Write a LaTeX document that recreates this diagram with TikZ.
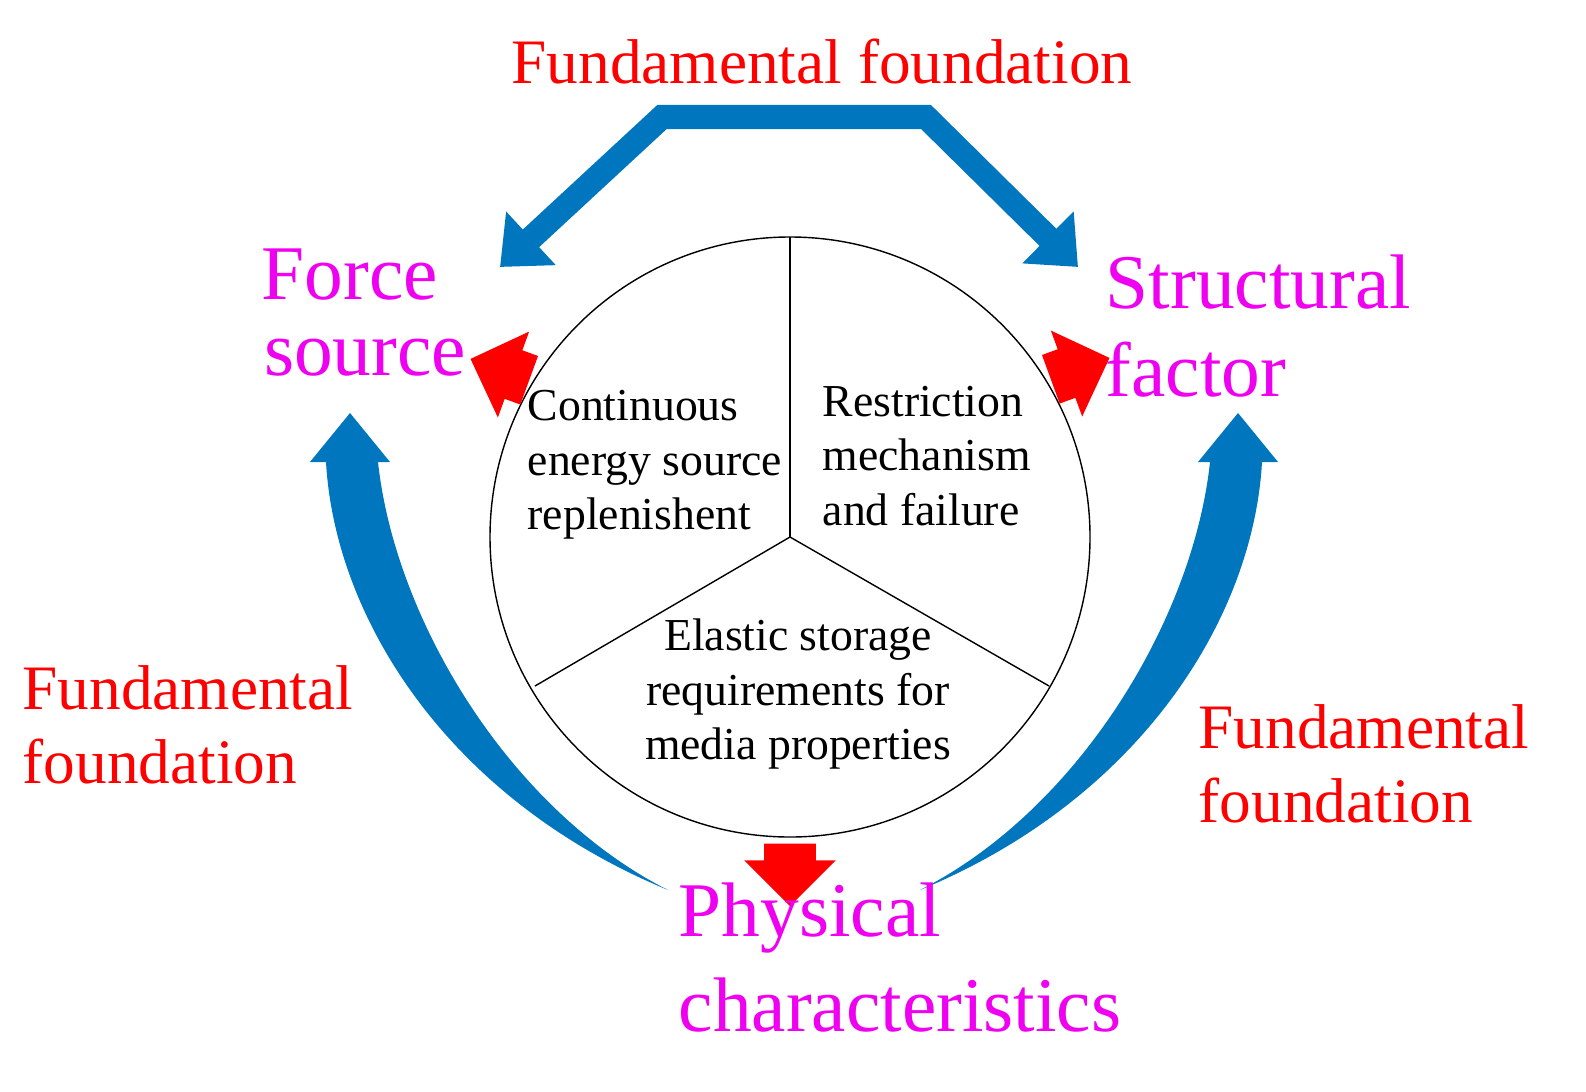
\documentclass[tikz,border=0pt]{standalone}
\usepackage{fontspec}
\setmainfont{Liberation Serif}
\usetikzlibrary{arrows.meta,shapes.arrows}
\definecolor{bandblue}{RGB}{0,118,190}
\definecolor{hotpink}{RGB}{240,0,240}
\tikzset{
  inner/.style={font=\fontsize{13}{15.5}\selectfont, align=left, inner sep=0pt},
  factor/.style={text=hotpink, font=\fontsize{22}{24}\selectfont, inner sep=0pt},
  basis/.style={text=red, font=\fontsize{18}{21}\selectfont, inner sep=0pt, align=left},
  redarrow/.style={single arrow, fill=red, draw=none, minimum height=16pt, single arrow head extend=4pt, minimum width=26pt, inner sep=5pt},
  bandtip/.tip={Triangle[width=20pt, length=12pt]}
}
\begin{document}
\begin{tikzpicture}[x=0.01cm,y=-0.01cm]
  \useasboundingbox (0,0) rectangle (1586,1091);

  % central disc
  \coordinate (ctr) at (790,537);
  \draw[thin] (ctr) circle [radius=300];
  \draw (ctr) -- (790,237);
  \draw (ctr) -- (535,686);
  \draw (ctr) -- (1049,686);

  \node[inner, anchor=west] (cont) at (527,465) {Continuous\\energy source\\replenishent};
  \node[inner, anchor=west] (restr) at (822,456) {Restriction\\mechanism\\and failure};
  \node[inner, align=center] (elast) at (798,694) {Elastic storage\\requirements for\\media properties};

  % top blue band
  \draw[bandblue, line width=0.24cm, bandtip-bandtip]
        (500,267) -- (662,117) -- (926,117) -- (1078,267);

  % curved blue bands
  \fill[bandblue] (668,890) .. controls (450,800) and (335,620) .. (326,462)
        -- (310,462) -- (350,413) -- (390,462) -- (378,462)
        .. controls (395,620) and (510,810) .. (668,890) -- cycle;
  \begin{scope}[xshift=1588*0.01cm, xscale=-1]
    \fill[bandblue] (668,890) .. controls (450,800) and (335,620) .. (326,462)
          -- (310,462) -- (350,413) -- (390,462) -- (378,462)
          .. controls (395,620) and (510,810) .. (668,890) -- cycle;
  \end{scope}

  % red block arrows
  \node[redarrow, rotate=-90] (down) at (790,862) {};
  \node[redarrow, rotate=160] (upleft) at (512,374) {};
  \node[redarrow, rotate=20] (upright) at (1068,373) {};

  % labels
  \node[basis] (top) at (822,62) {Fundamental foundation};
  \node[basis, anchor=west] (left) at (22,725) {Fundamental\\foundation};
  \node[basis, anchor=west] (right) at (1198,764) {Fundamental\\foundation};

  \node[factor] (force) at (350,275) {Force};
  \node[factor] (source) at (365,358) {source};
  \node[factor, anchor=west] (struct) at (1105,282) {Structural};
  \node[factor, anchor=west] (fact) at (1105,370) {factor};
  \node[factor] (phys) at (810,918) {Physical};
  \node[factor] (charac) at (900,1005) {characteristics};
\end{tikzpicture}
\end{document}
